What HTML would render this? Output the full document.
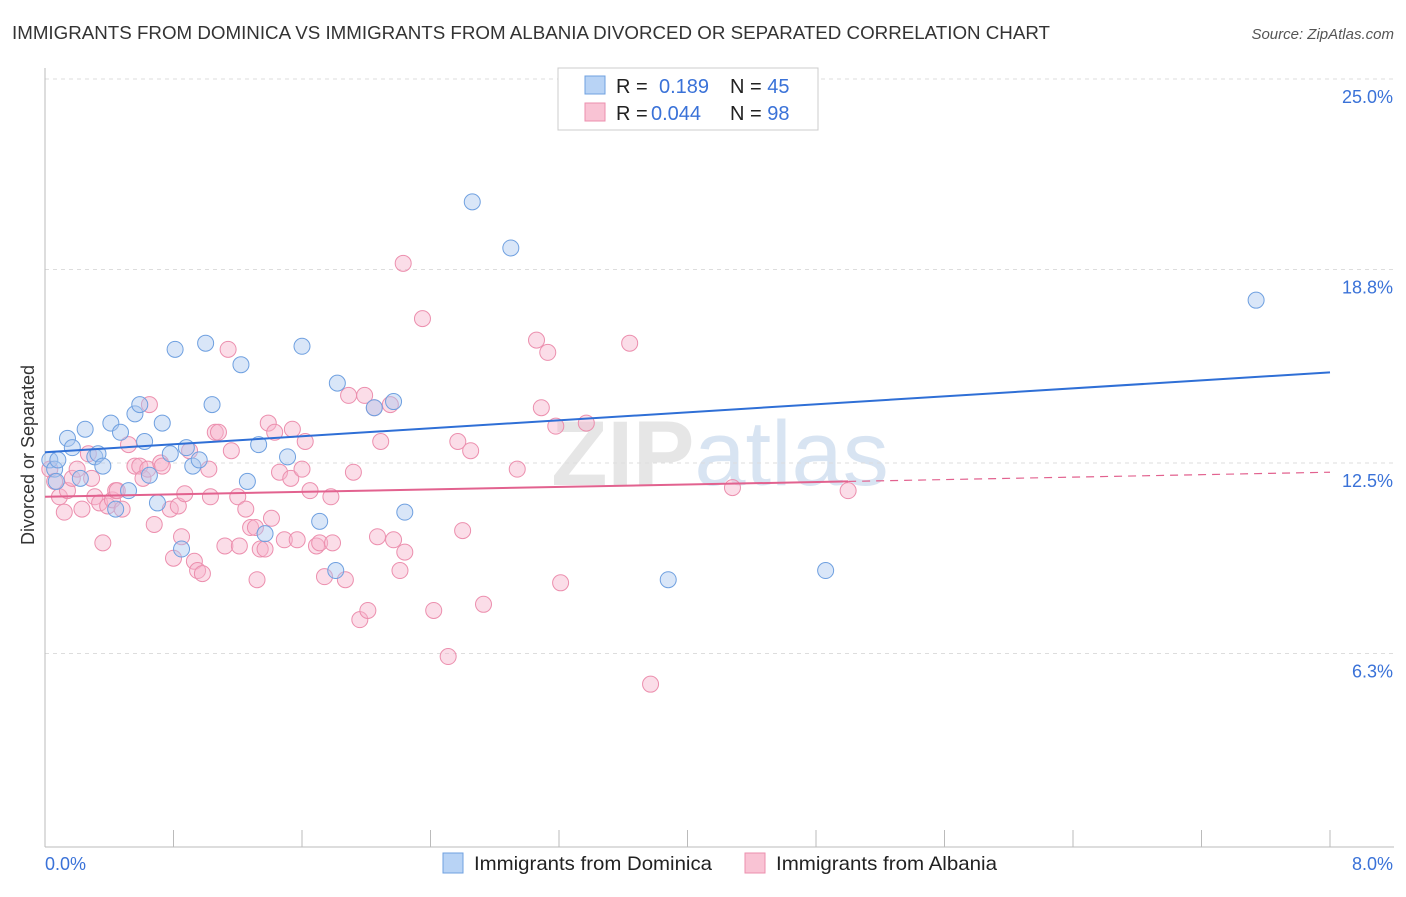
<!DOCTYPE html>
<html><head><meta charset="utf-8"><style>
body{margin:0;background:#fff;font-family:"Liberation Sans",sans-serif}
svg text{font-family:"Liberation Sans",sans-serif}
</style></head><body>
<svg id="c" width="1406" height="892">
<text x="12" y="39" font-size="18" fill="#333" textLength="1038" lengthAdjust="spacingAndGlyphs">IMMIGRANTS FROM DOMINICA VS IMMIGRANTS FROM ALBANIA DIVORCED OR SEPARATED CORRELATION CHART</text>
<text x="1394" y="39" font-size="15" fill="#555" font-style="italic" text-anchor="end">Source: ZipAtlas.com</text>
<text x="720" y="485" font-size="92" fill="#e6e6e6" text-anchor="middle" font-weight="bold">ZIP<tspan fill="#d8e4f2" font-weight="normal">atlas</tspan></text>
<text transform="translate(34,455) rotate(-90)" font-size="18" fill="#333" text-anchor="middle">Divorced or Separated</text>
<g id="grid"></g><g id="marks"></g>
<g>
<rect x="558" y="68" width="260" height="62" fill="#fff" stroke="#ccc"/>
<rect x="585" y="76" width="20" height="18" fill="#b8d3f5" stroke="#6fa0e0"/>
<rect x="585" y="103" width="20" height="18" fill="#f9c3d4" stroke="#ec8fae"/>
<text x="616" y="93" font-size="20" fill="#222">R = <tspan x="659" fill="#3a72d8">0.189</tspan><tspan x="730">N = </tspan><tspan fill="#3a72d8">45</tspan></text>
<text x="616" y="120" font-size="20" fill="#222">R = <tspan x="651" fill="#3a72d8">0.044</tspan><tspan x="730">N = </tspan><tspan fill="#3a72d8">98</tspan></text>
</g>
<g>
<rect x="443" y="853" width="20" height="20" fill="#b8d3f5" stroke="#6fa0e0"/>
<text x="474" y="870" font-size="19.5" fill="#222" textLength="238" lengthAdjust="spacingAndGlyphs">Immigrants from Dominica</text>
<rect x="745" y="853" width="20" height="20" fill="#f9c3d4" stroke="#ec8fae"/>
<text x="776" y="870" font-size="19.5" fill="#222" textLength="221" lengthAdjust="spacingAndGlyphs">Immigrants from Albania</text>
</g>
</svg>
<script>
const yTicks=[25.0,18.8,12.5,6.3];
const xMin=0,xMax=8;
const bluePts=[[0.03,12.6],[0.06,12.3],[0.07,11.9],[0.14,13.3],[0.17,13.0],[0.22,12.0],[0.25,13.6],[0.31,12.7],[0.33,12.8],[0.36,12.4],[0.41,13.8],[0.44,11.0],[0.47,13.5],[0.52,11.6],[0.56,14.1],[0.59,14.4],[0.62,13.2],[0.65,12.1],[0.70,11.2],[0.73,13.8],[0.78,12.8],[0.81,16.2],[0.85,9.7],[0.88,13.0],[0.92,12.4],[0.96,12.6],[1.00,16.4],[1.04,14.4],[1.22,15.7],[1.26,11.9],[1.33,13.1],[1.37,10.2],[1.51,12.7],[1.60,16.3],[1.71,10.6],[1.81,9.0],[1.82,15.1],[2.05,14.3],[2.17,14.5],[2.24,10.9],[2.66,21.0],[2.90,19.5],[3.88,8.7],[4.86,9.0],[7.54,17.8],[0.08,12.6]];
const pinkPts=[[0.03,12.3],[0.06,11.9],[0.09,11.4],[0.12,10.9],[0.14,11.6],[0.17,12.0],[0.20,12.3],[0.23,11.0],[0.27,12.8],[0.29,12.0],[0.31,11.4],[0.34,11.2],[0.36,9.9],[0.39,11.1],[0.42,11.3],[0.44,11.6],[0.45,11.6],[0.48,11.0],[0.52,13.1],[0.56,12.4],[0.59,12.4],[0.61,12.0],[0.64,12.3],[0.65,14.4],[0.68,10.5],[0.72,12.5],[0.73,12.4],[0.78,11.0],[0.80,9.4],[0.83,11.1],[0.85,10.1],[0.87,11.5],[0.90,12.9],[0.93,9.3],[0.95,9.0],[0.98,8.9],[1.02,12.3],[1.03,11.4],[1.06,13.5],[1.08,13.5],[1.12,9.8],[1.14,16.2],[1.16,12.9],[1.20,11.4],[1.21,9.8],[1.25,11.0],[1.28,10.4],[1.31,10.4],[1.32,8.7],[1.34,9.7],[1.37,9.7],[1.39,13.8],[1.41,10.7],[1.43,13.5],[1.46,12.2],[1.49,10.0],[1.53,12.0],[1.54,13.6],[1.57,10.0],[1.60,12.3],[1.62,13.2],[1.65,11.6],[1.69,9.8],[1.71,9.9],[1.74,8.8],[1.78,11.4],[1.79,9.9],[1.87,8.7],[1.89,14.7],[1.92,12.2],[1.96,7.4],[1.99,14.7],[2.01,7.7],[2.05,14.3],[2.07,10.1],[2.09,13.2],[2.15,14.4],[2.17,10.0],[2.21,9.0],[2.23,19.0],[2.24,9.6],[2.35,17.2],[2.42,7.7],[2.51,6.2],[2.57,13.2],[2.60,10.3],[2.65,12.9],[2.73,7.9],[2.94,12.3],[3.06,16.5],[3.09,14.3],[3.13,16.1],[3.18,13.7],[3.21,8.6],[3.37,13.8],[3.64,16.4],[3.77,5.3],[4.28,11.7],[5.00,11.6]];
const blueLine=[12.85,15.45];
const pinkLine=[11.4,12.2];
const pinkSolidEnd=5.0;
const X=v=>45+(v-xMin)/(xMax-xMin)*1285;
const Y=v=>847-v*30.72;
const NS='http://www.w3.org/2000/svg';
function mk(tag,attrs,parent){const e=document.createElementNS(NS,tag);for(const k in attrs)e.setAttribute(k,attrs[k]);parent.appendChild(e);return e;}
const grid=document.getElementById('grid'),marks=document.getElementById('marks');
yTicks.forEach(t=>{
 const l=mk('line',{x1:45,x2:1394,y1:Y(t),y2:Y(t),stroke:'#ddd','stroke-dasharray':'4,4'},grid);
 
 
 const tx=mk('text',{x:1393,y:Y(t)+24,'font-size':18,fill:'#3a72d8','text-anchor':'end'},grid);
 tx.textContent=t.toFixed(1)+'%';
 
 
});
const ax=mk('line',{x1:45,x2:45,y1:68,y2:847,stroke:'#bbb'},grid);


const bx=mk('line',{x1:45,x2:1394,y1:847,y2:847,stroke:'#bbb'},grid);


for(let i=0;i<=10;i++){const t=mk('line',{x1:45+i*128.5,x2:45+i*128.5,y1:830,y2:847,stroke:'#bbb'},grid);
 
 }
const xl0=mk('text',{x:45,y:870,'font-size':18,fill:'#3a72d8'},grid);xl0.textContent='0.0%';


const xl1=mk('text',{x:1393,y:870,'font-size':18,fill:'#3a72d8','text-anchor':'end'},grid);xl1.textContent='8.0%';


pinkPts.forEach(p=>{const c=mk('circle',{cx:X(p[0]),cy:Y(p[1]),r:8,fill:'rgba(246,180,203,0.45)',stroke:'#ec8fae','stroke-width':1},marks);
 
 });
bluePts.forEach(p=>{const c=mk('circle',{cx:X(p[0]),cy:Y(p[1]),r:8,fill:'rgba(170,200,240,0.45)',stroke:'#6fa0e0','stroke-width':1},marks);
 
 });
const pl=v=>pinkLine[0]+(pinkLine[1]-pinkLine[0])*(v-xMin)/(xMax-xMin);
const bl=mk('line',{x1:X(0),y1:Y(blueLine[0]),x2:X(8),y2:Y(blueLine[1]),stroke:'#2f6fd6','stroke-width':2},marks);


const ps=mk('line',{x1:X(0),y1:Y(pl(0)),x2:X(pinkSolidEnd),y2:Y(pl(pinkSolidEnd)),stroke:'#e2628f','stroke-width':2},marks);


const pd=mk('line',{x1:X(pinkSolidEnd),y1:Y(pl(pinkSolidEnd)),x2:X(8),y2:Y(pl(8)),stroke:'#e2628f','stroke-width':1.2,'stroke-dasharray':'8,6'},marks);


</script>
</body></html>
